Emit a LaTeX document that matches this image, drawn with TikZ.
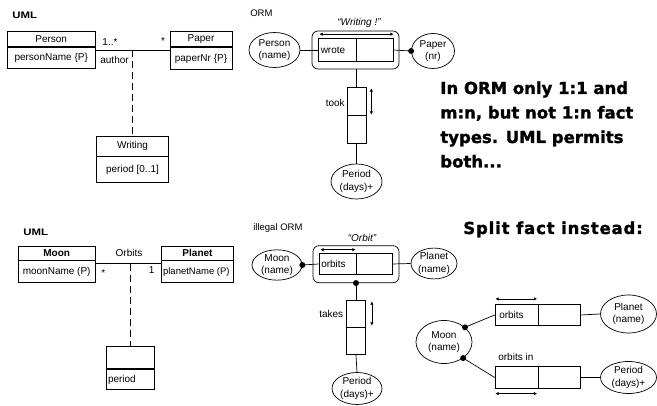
\documentclass[tikz,border=0pt]{standalone}
\usepackage{fontspec}
\setmainfont{Liberation Sans}
\setsansfont{Liberation Sans}
\newfontfamily\headfont{Liberation Sans}[FakeStretch=1.2]
\newfontfamily\notefont{DejaVu Sans}[BoldFeatures={FakeBold=1.5}]
\usetikzlibrary{shapes.geometric,arrows.meta,calc}

\begin{document}
\begin{tikzpicture}[x=1pt,y=-1pt,line width=0.7pt,
  every node/.style={font=\fontsize{10}{12}\selectfont},
  heading/.style={font=\headfont\bfseries\fontsize{9.5}{11}\selectfont,anchor=west,inner sep=0},
  plainhead/.style={font=\fontsize{9.5}{11}\selectfont,anchor=west,inner sep=0},
  lbl/.style={inner sep=0},
  cls/.style={draw,line width=0.8pt,inner sep=0},
  obj/.style={draw,ellipse,inner sep=0,align=center,font=\fontsize{10}{12.5}\selectfont},
  rolebox/.style={draw,inner sep=0},
  factframe/.style={draw,rounded corners=6pt,inner sep=0},
  ubar/.style={{Triangle[length=3pt,width=3pt]}-{Triangle[length=3pt,width=3pt]},line width=0.7pt},
  mdot/.style={fill=black},
  note/.style={font=\notefont\bfseries\fontsize{16.5}{20}\selectfont,anchor=base west,inner sep=0},
  assocdash/.style={dash pattern=on 7pt off 4pt},
  quoted/.style={font=\itshape\fontsize{10}{12}\selectfont,inner sep=0}]

\useasboundingbox (0,0) rectangle (657,406);

% ---------------- UML: Person writes Paper ----------------
\node[heading] (uml1) at (12,15) {UML};
\node[cls,minimum width=87.7pt,minimum height=15pt] (person) at (51.2,39.2) {Person};
\node[cls,minimum width=87.7pt,minimum height=21pt,anchor=north] (personA) at (person.south) {personName \{P\}};
\node[cls,minimum width=62pt,minimum height=15pt] (paper) at (201,39.2) {Paper};
\node[cls,minimum width=62pt,minimum height=22.3pt,anchor=north] (paperA) at (paper.south) {paperNr \{P\}};
\coordinate (w1a) at ($(personA.north east)+(0,3.3)$);
\coordinate (w1b) at ($(paperA.north west)+(0,3.3)$);
\draw (w1a) -- (w1b);
\node[lbl] (mult1) at (110,42) {1..*};
\node[lbl] (mult2) at (163,41.5) {*};
\node[lbl,anchor=west] (role1) at (100,60) {author};
\node[cls,minimum width=71.6pt,minimum height=19.3pt] (writing) at (132.5,146.4) {Writing};
\node[cls,minimum width=71.6pt,minimum height=25.7pt,anchor=north] (writingA) at (writing.south) {period [0..1]};
\draw[assocdash] (writing.north |- w1a) -- (writing.north);

% ---------------- ORM: Person wrote Paper ----------------
\node[plainhead] (orm1) at (250,13) {ORM};
\node[obj,minimum width=51pt,minimum height=35pt] (personO) at (274.5,50) {Person\\(name)};
\node[factframe,minimum width=87pt,minimum height=38pt] (wrfact) at (355.5,50) {};
\node[rolebox,minimum width=38pt,minimum height=23pt] (wr1) at (337,50) {\hspace*{-8pt}wrote};
\node[rolebox,minimum width=37pt,minimum height=23pt] (wr2) at (374.5,50) {};
\node[quoted] (wrname) at (359,22.7) {``Writing !''};
\draw[ubar] ($(wr1.north west)+(2,-4)$) -- ($(wr2.north east)+(0,-4)$);
\node[obj,minimum width=43pt,minimum height=35pt] (paperO) at (433,51) {Paper\\(nr)};
\draw (personO.east) -- (wr1.west);
\draw (wr2.east) -- (paperO.west);
\fill[mdot] (paperO.west) circle (3pt);
\node[rolebox,minimum width=19pt,minimum height=28pt] (tk1) at (356.5,101) {};
\node[rolebox,minimum width=19pt,minimum height=28pt,anchor=north] (tk2) at (tk1.south) {};
\node[lbl,anchor=east] (took) at (345,103.3) {took};
\draw (tk1.north |- wrfact.south) -- (tk1.north);
\draw[ubar] ($(tk1.north east)+(5,2)$) -- ($(tk1.south east)+(5,-1)$);
\node[obj,minimum width=51pt,minimum height=35pt] (periodO) at (356.5,181.5) {Period\\(days)+};
\draw (tk2.south) -- (periodO.north);

% ---------------- remark ----------------
\node[note] (n1) at (440,94) {In ORM only 1:1 and};
\node[note] (n2) at (440,118.5) {m:n, but not 1:n fact};
\node[note] (n3) at (440,143) {types. UML permits};
\node[note] (n4) at (440,167.5) {both...};

% ---------------- UML: Moon orbits Planet ----------------
\node[heading] (uml2) at (23,232) {UML};
\node[cls,minimum width=76.7pt,minimum height=13.3pt,font=\bfseries\fontsize{10}{12}\selectfont] (moon) at (56.7,253.3) {Moon};
\node[cls,minimum width=76.7pt,minimum height=21.7pt,anchor=north] (moonA) at (moon.south) {};
\node[lbl,anchor=west] (moonattr) at ($(moonA.west)+(4.5,0)$) {moonName (P)};
\node[cls,minimum width=71.7pt,minimum height=13.3pt,font=\bfseries\fontsize{10}{12}\selectfont] (planet) at (197.5,253.3) {Planet};
\node[cls,minimum width=71.7pt,minimum height=21.7pt,anchor=north] (planetA) at (planet.south) {};
\node[lbl,anchor=west,font=\fontsize{9.5}{11}\selectfont] (planetattr) at ($(planetA.west)+(1.5,0)$) {planetName (P)};
\coordinate (o1a) at ($(moonA.north east)+(0,3.3)$);
\coordinate (o1b) at ($(planetA.north west)+(0,3.3)$);
\draw (o1a) -- (o1b);
\node[lbl] (orbits) at (129,253.3) {Orbits};
\node[lbl] (mult3) at (103.3,273.5) {*};
\node[lbl] (mult4) at (151.7,270) {1};
\node[cls,minimum width=48.3pt,minimum height=21.6pt] (pbox) at (130.2,357.5) {};
\node[cls,minimum width=48.3pt,minimum height=20.7pt,anchor=north] (pboxA) at (pbox.south) {};
\node[lbl,anchor=west] (pattr) at ($(pboxA.west)+(2,0)$) {period};
\draw[assocdash] (pbox.north |- o1a) -- (pbox.north);

% ---------------- illegal ORM ----------------
\node[plainhead] (orm2) at (253,228) {illegal ORM};
\node[obj,minimum width=50pt,minimum height=29pt] (moonO) at (277,265) {Moon\\(name)};
\node[factframe,minimum width=86pt,minimum height=37pt] (orbfact) at (356,264.2) {};
\node[rolebox,minimum width=37pt,minimum height=21pt] (ob1) at (337.5,264) {\hspace*{-8pt}orbits};
\node[rolebox,minimum width=36pt,minimum height=21pt] (ob2) at (374,264) {};
\node[quoted] (obname) at (362,238) {``Orbit''};
\draw[ubar] ($(ob1.north west)+(2,-3.5)$) -- ($(ob1.north east)+(-1,-3.5)$);
\node[obj,minimum width=46pt,minimum height=30pt] (planetO) at (434,263.5) {Planet\\(name)};
\draw (moonO.east) -- (ob1.west);
\fill[mdot] (moonO.east) circle (3pt);
\draw (ob2.east) -- (planetO.west);
\node[rolebox,minimum width=19pt,minimum height=27pt] (ta1) at (356,313.5) {};
\node[rolebox,minimum width=19pt,minimum height=27pt,anchor=north] (ta2) at (ta1.south) {};
\node[lbl,anchor=east] (takes) at (343.5,314) {takes};
\draw (ta1.north |- orbfact.south) -- (ta1.north);
\fill[mdot] (ta1.north |- orbfact.south) circle (3pt);
\draw[ubar] ($(ta1.north east)+(6,2)$) -- ($(ta1.south east)+(6,-2)$);
\node[obj,minimum width=50pt,minimum height=32pt] (periodO2) at (357,388.5) {Period\\(days)+};
\draw (ta2.south) -- (periodO2.north);

% ---------------- split fact types ----------------
\node[note] (split) at (463,234) {\addfontfeature{LetterSpace=5}Split fact instead:};
\node[obj,minimum width=56pt,minimum height=43pt] (moonS) at (444,342) {Moon\\(name)};
\node[rolebox,minimum width=43pt,minimum height=21.5pt] (u1) at (516.5,315) {\hspace*{-10pt}orbits};
\node[rolebox,minimum width=42pt,minimum height=21.5pt] (u2) at (559,315) {};
\node[rolebox,minimum width=43pt,minimum height=21.5pt] (l1) at (516.5,377.5) {};
\node[rolebox,minimum width=42pt,minimum height=21.5pt] (l2) at (559,377.5) {};
\node[lbl,anchor=west] (orbitsin) at (498,357) {orbits in};
\draw[ubar] ($(u1.north west)+(1,-5)$) -- ($(u1.north east)+(-1.5,-5)$);
\draw[ubar] ($(l1.south west)+(1,5)$) -- ($(l1.south east)+(-1.5,5)$);
\node[obj,minimum width=56pt,minimum height=38pt] (planetS) at (628.5,314) {Planet\\(name)};
\node[obj,minimum width=56pt,minimum height=32pt] (periodS) at (628.5,377.5) {Period\\(days)+};
\draw (moonS.35) -- (u1.west);
\draw (moonS.-40) -- (l1.west);
\fill[mdot] (moonS.35) circle (3pt);
\fill[mdot] (moonS.-40) circle (3pt);
\draw (u2.east) -- (planetS.west);
\draw (l2.east) -- (periodS.west);
\end{tikzpicture}
\end{document}
